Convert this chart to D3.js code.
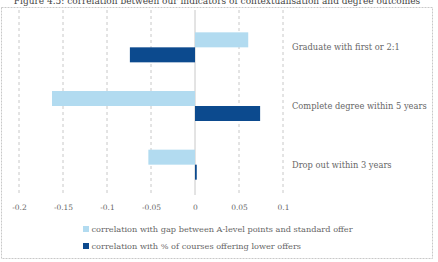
<!DOCTYPE html>
<html lang="en">
<head>
  <meta charset="UTF-8">
  <title>Figure 4.5</title>
  <script src="https://cdnjs.cloudflare.com/ajax/libs/d3/7.8.5/d3.min.js"></script>
  <style>
    body { margin: 0; padding: 0; background: #fff; }
    svg { display: block; font-family: "DejaVu Serif", "Liberation Serif", serif; }
  </style>
</head>
<body>
<svg id="chart" width="438" height="262"></svg>
<script>
  // outcomes (top to bottom) and the two correlation series
  const outcomes = ["Graduate with first or 2:1", "Complete degree within 5 years", "Drop out within 3 years"];
  const gapCorr = [0.0605, -0.1625, -0.053];
  const lowerOfferCorr = [-0.074, 0.074, 0.002];
  const seriesNames = ["correlation with gap between A-level points and standard offer",
                       "correlation with % of courses offering lower offers"];
  const seriesColors = ["#b2dbf0", "#0c4a8e"];
  const ticks = [-0.2, -0.15, -0.1, -0.05, 0, 0.05, 0.1];

  const svg = d3.select("#chart");
  const textColor = "#666";

  // frame
  svg.append("rect")
    .attr("x", 1.5).attr("y", 7.5).attr("width", 431).attr("height", 251)
    .attr("fill", "none").attr("stroke", "#c8c8c8").attr("stroke-dasharray", "2,1");

  // title (cut off at the top, as in the source)
  svg.append("text")
    .attr("x", 217).attr("y", 3.5)
    .attr("text-anchor", "middle")
    .attr("font-size", 9)
    .attr("fill", "#444")
    .text("Figure 4.5: correlation between our indicators of contextualisation and degree outcomes");

  const x = d3.scaleLinear().domain([-0.2, 0.1]).range([19, 283]);
  const y = d3.scalePoint().domain(outcomes).range([18, 194]).padding(0.5);
  const barH = 15;
  const gridTop = 10, gridBottom = 195;

  // grid lines
  svg.append("g").selectAll("line")
    .data(ticks)
    .join("line")
      .attr("x1", d => x(d)).attr("x2", d => x(d))
      .attr("y1", gridTop).attr("y2", gridBottom)
      .attr("stroke", "#c8c8c8")
      .attr("stroke-dasharray", d => d === 0 ? null : "3,3");

  // bars
  const rows = outcomes.map((o, i) => ({ o, vals: [gapCorr[i], lowerOfferCorr[i]] }));
  rows.forEach(r => {
    r.vals.forEach((v, j) => {
      svg.append("rect")
        .attr("x", x(Math.min(0, v)))
        .attr("y", y(r.o) - barH + j * barH)
        .attr("width", Math.abs(x(v) - x(0)))
        .attr("height", barH)
        .attr("fill", seriesColors[j]);
    });
  });

  // category labels on the right
  svg.append("g").selectAll("text")
    .data(outcomes)
    .join("text")
      .attr("x", 292)
      .attr("y", d => y(d) + 3)
      .attr("font-size", 8.3)
      .attr("fill", textColor)
      .text(d => d);

  // x axis labels
  const axis = d3.axisBottom(x).tickValues(ticks).tickSize(0).tickFormat(d => d3.format("")(d).replace("−", "-"));
  const ax = svg.append("g").attr("transform", `translate(0, ${gridBottom + 7})`).call(axis);
  ax.select(".domain").remove();
  ax.selectAll("text")
    .attr("font-family", "DejaVu Serif, Liberation Serif, serif")
    .attr("font-size", 7.5)
    .attr("fill", textColor);

  // legend
  const legend = svg.append("g").selectAll("g")
    .data(seriesNames)
    .join("g")
      .attr("transform", (d, i) => `translate(83, ${229 + i * 17})`);
  legend.append("rect")
    .attr("x", 0).attr("y", -3).attr("width", 6).attr("height", 6)
    .attr("fill", (d, i) => seriesColors[i]);
  legend.append("text")
    .attr("x", 8.5).attr("y", 3)
    .attr("font-size", 8.2)
    .attr("fill", textColor)
    .text(d => d);
</script>
</body>
</html>
